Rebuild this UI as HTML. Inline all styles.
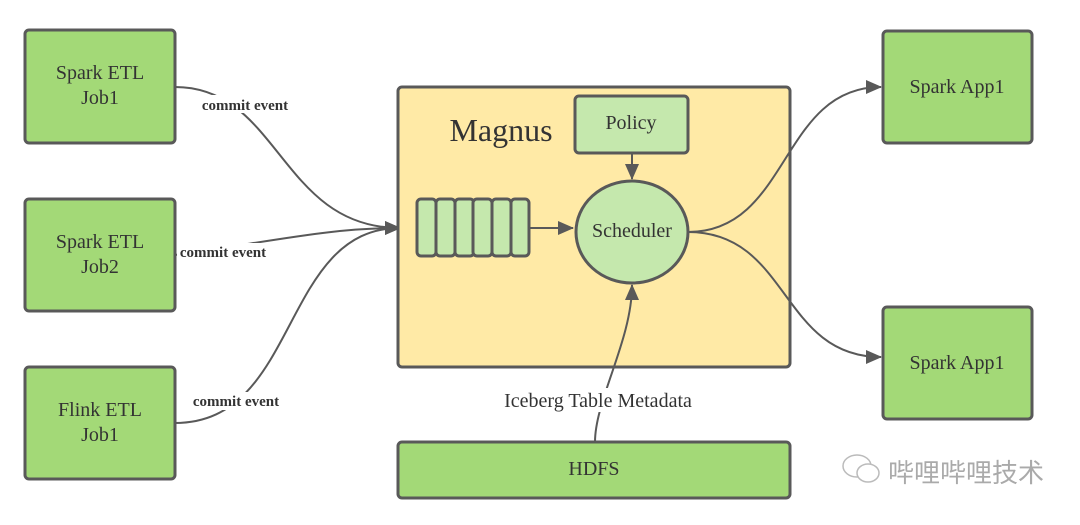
<!DOCTYPE html>
<html><head><style>body{margin:0;background:#fff}</style></head><body>
<svg width="1080" height="520" xmlns="http://www.w3.org/2000/svg" font-family="Liberation Serif, serif">
<defs>
<marker id="b" markerWidth="16" markerHeight="14" refX="15" refY="7" orient="auto" markerUnits="userSpaceOnUse"><path d="M0,0 L16,7 L0,14 z" fill="#595959"/></marker></defs>
<rect width="1080" height="520" fill="#fff"/>
<g stroke="#595959" stroke-width="2" fill="none">
<path d="M175,87 C280,87 280,228 400,228" marker-end="url(#b)"/>
<path d="M175,255 C280,240 330,228 400,228" marker-end="url(#b)"/>
<path d="M175,423 C300,423 280,228 400,228"/>
</g>
<g font-size="15" font-weight="bold" text-anchor="middle" fill="#333">
<rect x="196" y="95" width="98" height="18" fill="#fff"/><text x="245" y="110">commit event</text>
<rect x="177" y="243" width="95" height="18" fill="#fff"/><text x="223" y="257">commit event</text>
<rect x="187" y="392" width="98" height="18" fill="#fff"/><text x="236" y="406">commit event</text>
</g>
<g stroke="#595959" stroke-width="3" fill="#a3d977">
<rect x="25" y="30" width="150" height="113" rx="4"/>
<rect x="25" y="199" width="150" height="112" rx="4"/>
<rect x="25" y="367" width="150" height="112" rx="4"/>
<rect x="883" y="31" width="149" height="112" rx="4"/>
<rect x="883" y="307" width="149" height="112" rx="4"/>
<rect x="398" y="442" width="392" height="56" rx="4"/>
<rect x="398" y="87" width="392" height="280" rx="4" fill="#ffeaa6"/>
<rect x="575" y="96" width="113" height="57" rx="4" fill="#c5e8ad"/>
<ellipse cx="632" cy="232" rx="56" ry="51" fill="#c5e8ad"/>
<g fill="#c5e8ad"><rect x="417" y="199" width="19" height="57" rx="4"/><rect x="436" y="199" width="19" height="57" rx="4"/><rect x="455" y="199" width="19" height="57" rx="4"/><rect x="473" y="199" width="19" height="57" rx="4"/><rect x="492" y="199" width="19" height="57" rx="4"/><rect x="511" y="199" width="18" height="57" rx="4"/></g>
</g>
<g stroke="#595959" stroke-width="2" fill="none">
<path d="M529,228 L573,228" marker-end="url(#b)"/>
<path d="M632,153 L632,179" marker-end="url(#b)"/>
<path d="M688,232 C790,232 780,87 881,87" marker-end="url(#b)"/>
<path d="M688,232 C790,232 780,357 881,357" marker-end="url(#b)"/>
<path d="M595,442 C595,400 632,340 632,285" marker-end="url(#b)"/>
</g>
<rect x="500" y="388" width="198" height="24" fill="#fff"/>
<g fill="#333" font-size="20" text-anchor="middle">
<text x="100" y="79">Spark ETL</text><text x="100" y="104">Job1</text>
<text x="100" y="248">Spark ETL</text><text x="100" y="273">Job2</text>
<text x="100" y="416">Flink ETL</text><text x="100" y="441">Job1</text>
<text x="957" y="93">Spark App1</text><text x="957" y="369">Spark App1</text>
<text x="594" y="475">HDFS</text>
<text x="631" y="129">Policy</text>
<text x="632" y="237">Scheduler</text>
<text x="598" y="407">Iceberg Table Metadata</text>
<text x="501" y="141" font-size="32">Magnus</text>
</g>
<g stroke="#bbb" stroke-width="1.5" fill="#fff"><ellipse cx="857" cy="466" rx="14" ry="11"/><ellipse cx="868" cy="473" rx="11" ry="9"/></g>
<text x="888" y="482" font-size="26" fill="#aaa" font-family="Liberation Sans, Noto Sans CJK SC, sans-serif">哔哩哔哩技术</text>
</svg>
</body></html>
